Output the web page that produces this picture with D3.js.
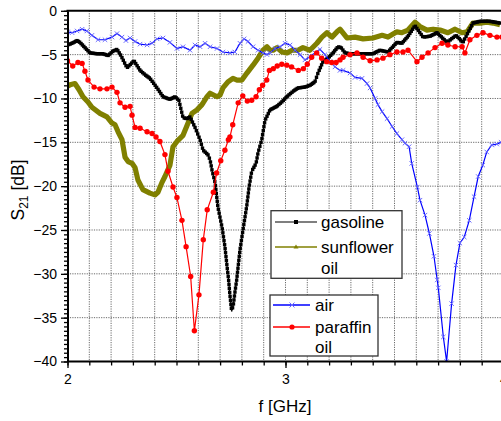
<!DOCTYPE html>
<html>
<head>
<meta charset="utf-8">
<script src="https://cdn.jsdelivr.net/npm/d3@7"></script>
<style>
  body { margin: 0; background: #fff; }
  svg { display: block; font-family: "Liberation Sans", Arial, sans-serif; }
</style>
</head>
<body>
<svg id="chart" width="501" height="421"></svg>
<script>
// values (f in GHz, S21 in dB)
const gasolineF = [2.000,2.021,2.044,2.057,2.080,2.103,2.135,2.163,2.186,2.209,2.227,2.245,2.273,2.305,2.333,2.356,2.378,2.411,2.438,2.470,2.493,2.511,2.530,2.548,2.562,2.585,2.608,2.622,2.644,2.654,2.663,2.677,2.690,2.709,2.722,2.732,2.739,2.745,2.753,2.761,2.768,2.776,2.791,2.805,2.822,2.833,2.845,2.865,2.874,2.891,2.906,2.929,2.960,2.983,3.006,3.034,3.057,3.089,3.112,3.135,3.149,3.172,3.195,3.218,3.241,3.255,3.273,3.296,3.351,3.401,3.433,3.470,3.511,3.534,3.562,3.594,3.631,3.663,3.695,3.741,3.782,3.814,3.860,3.892,3.938,3.984];
const gasolineDb = [-3.9,-3.7,-3.4,-3.6,-4.2,-4.8,-4.9,-4.9,-5.1,-4.6,-4.4,-5.1,-6.5,-5.7,-6.8,-7.3,-7.7,-8.8,-9.8,-10.1,-9.8,-10.2,-12.2,-12.3,-12.1,-13.3,-14.7,-15.9,-16.4,-17.0,-18.2,-19.6,-22.4,-24.7,-26.9,-29.2,-30.7,-32.4,-34.3,-33.5,-32.1,-30.7,-27.3,-25.0,-22.3,-20.1,-18.3,-17.4,-16.2,-14.7,-12.5,-11.3,-10.9,-10.4,-9.8,-9.2,-8.8,-8.7,-8.5,-8.1,-7.1,-5.8,-5.4,-4.8,-4.1,-4.2,-4.8,-4.9,-4.9,-4.9,-4.5,-4.7,-3.6,-3.7,-2.9,-1.7,-3.0,-2.9,-2.5,-3.6,-2.8,-3.6,-1.4,-1.2,-1.2,-1.4];

const sunflowerF = [2.000,2.016,2.034,2.053,2.071,2.094,2.112,2.149,2.181,2.204,2.218,2.232,2.250,2.264,2.278,2.296,2.310,2.323,2.346,2.378,2.401,2.415,2.433,2.447,2.470,2.484,2.502,2.530,2.553,2.571,2.594,2.617,2.640,2.654,2.686,2.700,2.713,2.736,2.759,2.778,2.800,2.823,2.851,2.874,2.897,2.915,2.929,2.943,2.961,2.984,3.007,3.030,3.057,3.080,3.112,3.144,3.167,3.190,3.213,3.236,3.250,3.282,3.319,3.356,3.401,3.443,3.470,3.511,3.534,3.562,3.594,3.617,3.649,3.677,3.709,3.745,3.778,3.810,3.833,3.860,3.892,3.924,3.952,3.984];
const sunflowerDb = [-8.6,-8.4,-8.3,-9.0,-9.8,-10.4,-11.0,-11.7,-12.1,-12.8,-13.0,-13.8,-14.7,-16.7,-17.2,-17.4,-17.9,-19.3,-20.4,-20.8,-21.0,-20.7,-19.6,-18.9,-17.6,-15.5,-14.9,-14.2,-12.8,-11.7,-11.3,-10.7,-9.8,-9.4,-9.8,-9.6,-8.8,-8.1,-7.7,-7.9,-7.9,-7.1,-6.2,-5.4,-4.5,-4.1,-4.5,-4.5,-4.2,-4.7,-4.8,-4.5,-4.5,-4.2,-4.5,-3.7,-3.0,-2.5,-3.0,-2.4,-2.1,-3.1,-3.0,-3.2,-3.1,-2.8,-3.0,-2.4,-2.5,-2.2,-1.3,-1.8,-2.2,-2.1,-2.2,-2.5,-2.1,-2.5,-2.4,-1.4,-1.4,-1.3,-1.4,-1.6];

const airF = [2.000,2.021,2.044,2.067,2.089,2.112,2.140,2.172,2.204,2.227,2.250,2.268,2.287,2.310,2.333,2.365,2.388,2.411,2.438,2.470,2.502,2.530,2.562,2.585,2.608,2.631,2.654,2.686,2.713,2.745,2.768,2.791,2.810,2.828,2.851,2.874,2.897,2.915,2.929,2.952,2.975,2.998,3.021,3.044,3.067,3.089,3.112,3.135,3.158,3.181,3.204,3.227,3.250,3.264,3.296,3.319,3.351,3.374,3.388,3.411,3.424,3.443,3.466,3.489,3.511,3.534,3.548,3.567,3.579,3.605,3.617,3.640,3.660,3.681,3.696,3.701,3.724,3.739,3.762,3.782,3.800,3.820,3.843,3.865,3.884,3.905,3.923,3.946,3.969,3.989];
const airDb = [-2.4,-2.5,-2.3,-2.1,-2.3,-2.8,-3.3,-3.3,-3.0,-2.6,-3.0,-3.4,-3.1,-3.5,-3.8,-3.9,-3.7,-3.2,-3.1,-3.6,-4.3,-4.1,-4.5,-3.9,-4.1,-3.7,-4.1,-4.3,-4.7,-4.8,-4.7,-3.7,-3.2,-3.5,-4.1,-4.5,-4.8,-5.0,-4.8,-4.3,-4.1,-3.7,-3.9,-4.5,-5.0,-5.6,-5.2,-4.8,-4.4,-5.0,-5.8,-6.4,-6.8,-6.8,-7.1,-7.6,-7.7,-8.3,-8.8,-10.0,-10.7,-11.5,-12.3,-13.2,-14.0,-14.7,-15.1,-15.5,-17.4,-20.1,-21.6,-23.3,-25.4,-28.0,-30.7,-31.6,-37.2,-40.0,-33.4,-29.0,-26.5,-25.8,-23.9,-21.2,-18.9,-17.6,-16.1,-15.3,-15.2,-15.0];

const paraffinF = [2.000,2.024,2.048,2.067,2.080,2.094,2.122,2.149,2.181,2.204,2.227,2.241,2.264,2.287,2.296,2.310,2.333,2.365,2.388,2.406,2.424,2.447,2.461,2.484,2.502,2.525,2.544,2.565,2.582,2.603,2.623,2.641,2.669,2.684,2.703,2.722,2.738,2.745,2.758,2.783,2.804,2.825,2.845,2.865,2.880,2.895,2.914,2.926,2.944,2.962,2.983,3.006,3.028,3.059,3.082,3.100,3.120,3.143,3.166,3.189,3.212,3.232,3.250,3.264,3.296,3.328,3.356,3.388,3.420,3.447,3.479,3.511,3.539,3.562,3.603,3.626,3.654,3.686,3.718,3.745,3.778,3.810,3.823,3.846,3.878,3.906,3.938,3.970,3.993];
const paraffinDb = [-5.7,-6.3,-5.9,-6.0,-6.9,-7.9,-8.7,-8.9,-8.9,-8.7,-9.3,-10.5,-11.0,-10.9,-11.9,-13.3,-13.4,-13.8,-14.0,-14.4,-14.9,-16.4,-18.3,-20.1,-21.3,-23.9,-26.9,-30.3,-36.5,-32.4,-26.1,-22.7,-20.7,-18.5,-17.1,-15.9,-14.7,-14.4,-13.0,-10.5,-9.7,-10.3,-10.2,-9.8,-9.0,-8.5,-7.9,-6.8,-6.6,-6.3,-6.1,-6.2,-6.4,-6.8,-6.6,-6.1,-5.3,-4.8,-5.4,-5.8,-5.9,-5.9,-5.6,-5.3,-5.0,-4.8,-5.3,-5.7,-5.6,-5.4,-5.0,-4.7,-4.7,-4.5,-5.8,-5.3,-4.8,-4.2,-3.7,-3.9,-4.1,-4.1,-4.8,-3.3,-2.8,-2.5,-2.8,-3.0,-3.0];

const xMajor = [2, 3, 4];
const yMajor = [0, -5, -10, -15, -20, -25, -30, -35, -40];

const svg = d3.select("#chart");
const W = 501, H = 421;
const plotLeft = 67.5, plotTop = 10.8, plotBottom = 361.5;

const x = d3.scaleLinear().domain([2, 4]).range([plotLeft, 503.5]);
const y = d3.scaleLinear().domain([-40, 0]).range([plotBottom, plotTop]);

const zip = (fs, ds) => fs.map((f, i) => [f, ds[i]]);

svg.append("rect").attr("width", W).attr("height", H).attr("fill", "#fff");

svg.append("clipPath").attr("id", "plotClip")
  .append("rect")
  .attr("x", plotLeft).attr("y", plotTop)
  .attr("width", W - plotLeft).attr("height", plotBottom - plotTop);

// grid
const grid = svg.append("g")
  .attr("stroke", "#444")
  .attr("stroke-width", 0.8)
  .attr("stroke-dasharray", "1.2,1.2");
grid.selectAll("line.v")
  .data(d3.range(1, 20).map((i) => 2 + i / 10))
  .enter().append("line")
  .attr("x1", (d) => x(d)).attr("x2", (d) => x(d))
  .attr("y1", plotTop).attr("y2", plotBottom);
grid.selectAll("line.h")
  .data([-5, -10, -15, -20, -25, -30, -35])
  .enter().append("line")
  .attr("x1", plotLeft).attr("x2", W)
  .attr("y1", (d) => y(d)).attr("y2", (d) => y(d));

const plot = svg.append("g").attr("clip-path", "url(#plotClip)");
const line = d3.line().x((d) => x(d[0])).y((d) => y(d[1]));

// markers spread along a drawn path (dense, like the measured sweep)
const pathMarks = (pathNode) => {
  const total = pathNode.getTotalLength();
  const pts = [];
  let last = null;
  for (let s = 0; s <= total; s += 0.5) {
    const p = pathNode.getPointAtLength(s);
    if (!last || p.x - last.x >= 1.2 || Math.hypot(p.x - last.x, p.y - last.y) >= 3.6) {
      pts.push(p);
      last = p;
    }
  }
  return pts;
};

// sunflower oil
plot.append("path")
  .datum(zip(sunflowerF, sunflowerDb))
  .attr("d", line)
  .attr("fill", "none")
  .attr("stroke", "#808000")
  .attr("stroke-width", 5.2)
  .attr("stroke-linejoin", "round");

// gasoline
const gasPath = plot.append("path")
  .datum(zip(gasolineF, gasolineDb))
  .attr("d", line)
  .attr("fill", "none")
  .attr("stroke", "#000")
  .attr("stroke-width", 1.2);
plot.selectAll("rect.gas")
  .data(pathMarks(gasPath.node()))
  .enter().append("rect")
  .attr("x", (p) => p.x - 1.7).attr("y", (p) => p.y - 1.7)
  .attr("width", 3.4).attr("height", 3.4)
  .attr("fill", "#000");

// air
const airData = zip(airF, airDb);
plot.append("path")
  .datum(airData)
  .attr("d", line)
  .attr("fill", "none")
  .attr("stroke", "#0000ff")
  .attr("stroke-width", 1.2);
plot.selectAll("path.air")
  .data(airData)
  .enter().append("path")
  .attr("d", (d) => {
    const cx = x(d[0]), cy = y(d[1]), r = 2.2;
    return `M${cx - r},${cy - r}L${cx + r},${cy + r}M${cx - r},${cy + r}L${cx + r},${cy - r}`;
  })
  .attr("stroke", "#6a6aff")
  .attr("stroke-width", 1);

// paraffin oil
const parData = zip(paraffinF, paraffinDb);
plot.append("path")
  .datum(parData)
  .attr("d", line)
  .attr("fill", "none")
  .attr("stroke", "#ff0000")
  .attr("stroke-width", 1.2);
plot.selectAll("circle.par")
  .data(parData)
  .enter().append("circle")
  .attr("cx", (d) => x(d[0])).attr("cy", (d) => y(d[1]))
  .attr("r", 2.7)
  .attr("fill", "#ff0000");

// axes
const xMinor = svg.append("g")
  .attr("transform", `translate(0,${plotBottom})`)
  .call(d3.axisBottom(x).tickValues(d3.range(0, 21).map((i) => 2 + i / 10)).tickSize(4).tickFormat(""));
const xAxis = svg.append("g")
  .attr("transform", `translate(0,${plotBottom})`)
  .call(d3.axisBottom(x).tickValues(xMajor).tickSize(6.5).tickSizeOuter(0).tickPadding(6).tickFormat(d3.format("d")));
const yMinor = svg.append("g")
  .attr("transform", `translate(${plotLeft},0)`)
  .call(d3.axisLeft(y).tickValues(d3.range(0, 81).map((i) => -i / 2)).tickSize(3.5).tickFormat(""));
const yAxis = svg.append("g")
  .attr("transform", `translate(${plotLeft},0)`)
  .call(d3.axisLeft(y).tickValues(yMajor).tickSize(6.5).tickSizeOuter(0).tickPadding(4).tickFormat(d3.format("d")));

[xMinor, yMinor].forEach((g) => g.select(".domain").remove());
[xMinor, xAxis, yMinor, yAxis].forEach((g) => {
  g.selectAll(".tick line").attr("stroke", "#000").attr("stroke-width", 1.3);
});
[xAxis, yAxis].forEach((g) => {
  g.select(".domain").attr("stroke", "#000").attr("stroke-width", 2);
  g.selectAll("text").attr("fill", "#000").style("font-size", "14px")
    .style("font-family", "'Liberation Sans', Arial, sans-serif");
});
xAxis.select(".domain").attr("d", `M${plotLeft},0H${W}`);

// top frame
svg.append("line")
  .attr("x1", plotLeft - 1).attr("x2", W)
  .attr("y1", plotTop).attr("y2", plotTop)
  .attr("stroke", "#000").attr("stroke-width", 2);

// axis titles
svg.append("text")
  .attr("x", 285).attr("y", 412)
  .attr("text-anchor", "middle")
  .style("font-size", "17px")
  .text("f [GHz]");

const yTitle = svg.append("text")
  .attr("transform", "translate(24,190) rotate(-90)")
  .attr("text-anchor", "middle")
  .style("font-size", "17.5px");
yTitle.append("tspan").text("S");
yTitle.append("tspan").attr("dy", 4).style("font-size", "12px").text("21");
yTitle.append("tspan").attr("dy", -4).text(" [dB]");

// legends
const legendA = ["gasoline", "sunflower"];
const legendB = ["air", "paraffin"];

const drawBox = (x0, y0, w, h) => svg.append("rect")
  .attr("x", x0).attr("y", y0).attr("width", w).attr("height", h)
  .attr("fill", "#fff").attr("stroke", "#333").attr("stroke-width", 1.3);

drawBox(271, 210.7, 131, 67.6);
drawBox(270, 295, 108, 61);

const legText = (tx, ty, s) => svg.append("text")
  .attr("x", tx).attr("y", ty).style("font-size", "17px").attr("fill", "#000").text(s);

// gasoline entry
svg.append("line").attr("x1", 275).attr("x2", 317).attr("y1", 222).attr("y2", 222)
  .attr("stroke", "#555").attr("stroke-width", 1.3);
svg.append("rect").attr("x", 294).attr("y", 220).attr("width", 4).attr("height", 4).attr("fill", "#000");
legText(321, 228, legendA[0]);
// sunflower entry
svg.append("line").attr("x1", 275).attr("x2", 317).attr("y1", 247).attr("y2", 247)
  .attr("stroke", "#808000").attr("stroke-width", 1.5);
svg.append("path").attr("d", "M296,244.5L298.5,248.5H293.5Z").attr("fill", "#808000");
legText(321, 253, legendA[1]);
legText(321, 274, "oil");

// air entry
svg.append("line").attr("x1", 273).attr("x2", 310).attr("y1", 305).attr("y2", 305)
  .attr("stroke", "#0000ff").attr("stroke-width", 1.3);
svg.append("path").attr("d", "M289.5,302.5L294.5,307.5M289.5,307.5L294.5,302.5")
  .attr("stroke", "#6a6aff").attr("stroke-width", 1);
legText(315, 311, legendB[0]);
// paraffin entry
svg.append("line").attr("x1", 273).attr("x2", 310).attr("y1", 327).attr("y2", 327)
  .attr("stroke", "#ff0000").attr("stroke-width", 1.3);
svg.append("circle").attr("cx", 292).attr("cy", 327).attr("r", 2.6).attr("fill", "#ff0000");
legText(315, 333, legendB[1]);
legText(315, 353, "oil");
</script>
</body>
</html>
